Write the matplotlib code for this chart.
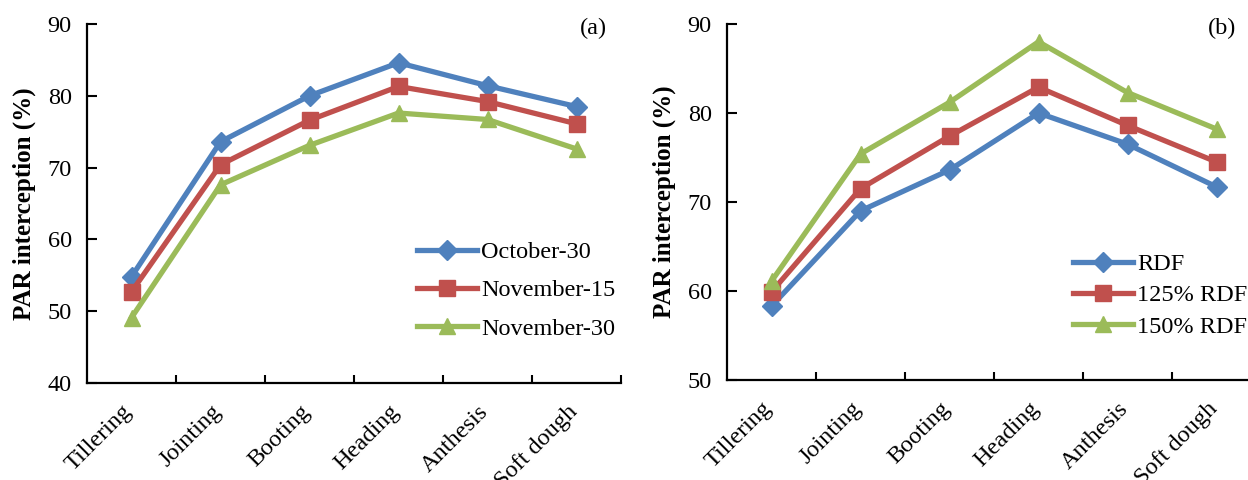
import matplotlib
matplotlib.use("Agg")
import matplotlib.pyplot as plt
import matplotlib.transforms as mtransforms
import numpy as np

stages = ["Tillering", "Jointing", "Booting", "Heading", "Anthesis", "Soft dough"]

# Panel (a): sowing dates
oct30 = [54.8, 73.6, 80.0, 84.6, 81.4, 78.5]
nov15 = [52.7, 70.4, 76.6, 81.3, 79.2, 76.1]
nov30 = [49.1, 67.6, 73.1, 77.6, 76.7, 72.6]
labels_a = ["October-30", "November-15", "November-30"]

# Panel (b): fertilizer levels
rdf = [58.3, 69.0, 73.6, 80.0, 76.5, 71.7]
rdf125 = [59.9, 71.5, 77.4, 82.9, 78.6, 74.5]
rdf150 = [61.1, 75.4, 81.2, 88.0, 82.3, 78.2]
labels_b = ["RDF", "125% RDF", "150% RDF"]

colors = ["#4F81BD", "#C0504D", "#9BBB59"]
markers = ["D", "s", "^"]
msizes = [10, 11, 12]

plt.rcParams['font.family'] = ['Liberation Serif', 'DejaVu Serif']

fig = plt.figure(figsize=(12.48, 4.8), dpi=100)
ax_a = fig.add_axes([87/1248, 1-383/480, 534/1248, (383-24)/480])
ax_b = fig.add_axes([727/1248, 1-380/480, 534/1248, (380-24)/480])

FS = 17.5

def style(ax, ylim, yticks):
    x = np.arange(len(stages))
    ax.set_xlim(-0.5, len(stages) - 0.5)
    ax.set_ylim(*ylim)
    ax.set_yticks(yticks)
    ax.set_yticklabels([str(v) for v in yticks], fontsize=FS)
    ax.set_xticks(x)
    ax.set_xticklabels(stages, fontsize=FS, rotation=45, ha='right',
                       rotation_mode='anchor', va='top')
    ax.set_xticks(np.arange(0.5, len(stages) + 0.5, 1.0), minor=True)
    ax.tick_params(axis='x', which='major', length=0, pad=13)
    ax.tick_params(axis='x', which='minor', direction='in', length=6, width=1.5)
    ax.tick_params(axis='y', direction='in', length=7, width=1.5, pad=11)
    offset = mtransforms.ScaledTranslation(-10/100, 0, fig.dpi_scale_trans)
    for lab in ax.get_xticklabels():
        lab.set_transform(lab.get_transform() + offset)
    for s in ['top', 'right']:
        ax.spines[s].set_visible(False)
    for s in ['left', 'bottom']:
        ax.spines[s].set_linewidth(1.6)
    ax.set_ylabel("PAR interception (%)", fontsize=18, fontweight='bold', labelpad=8)

def draw(ax, series, labels):
    x = np.arange(len(stages))
    for vals, lab, c, m, ms in zip(series, labels, colors, markers, msizes):
        ax.plot(x, vals, color=c, marker=m, markersize=ms, linewidth=3.8,
                label=lab, markeredgecolor=c, clip_on=False)

draw(ax_a, [oct30, nov15, nov30], labels_a)
style(ax_a, (40, 90), [40, 50, 60, 70, 80, 90])
fig.text(607/1248, 1-28/480, "(a)", ha='right', va='center', fontsize=FS)
ax_a.legend(loc='upper left', bbox_to_anchor=((417-87)/534, (383-241)/359), frameon=False,
            fontsize=FS, handlelength=2.47, handletextpad=0.16, labelspacing=0.67,
            borderaxespad=0, borderpad=0)

draw(ax_b, [rdf, rdf125, rdf150], labels_b)
style(ax_b, (50, 90), [50, 60, 70, 80, 90])
fig.text(1236/1248, 1-28/480, "(b)", ha='right', va='center', fontsize=FS)
ax_b.legend(loc='upper left', bbox_to_anchor=((1073-727)/534, (380-253)/356), frameon=False,
            fontsize=FS, handlelength=2.47, handletextpad=0.16, labelspacing=0.38,
            borderaxespad=0, borderpad=0)

fig.savefig("out.png", dpi=100)
